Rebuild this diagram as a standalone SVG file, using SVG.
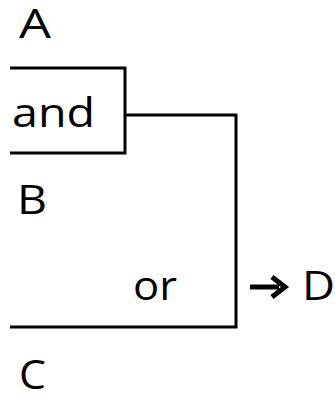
<svg xmlns="http://www.w3.org/2000/svg" width="335" height="394" viewBox="0 0 335 394">
<style>
.t{font-family:"Open Sans","Noto Sans","DejaVu Sans",sans-serif;font-size:40px;fill:#000}
.l{fill:none;stroke:#000;stroke-width:3}
</style>
<rect width="335" height="394" fill="#fff"/>
<g id="A"><text class="t" x="19" y="38" textLength="32" lengthAdjust="spacingAndGlyphs">A</text></g>
<g id="and"><path class="l" d="M10,68 H125 V153 H10"/><text class="t" x="12" y="127" textLength="83" lengthAdjust="spacingAndGlyphs">and</text></g>
<g id="B"><text class="t" x="17" y="214" textLength="30" lengthAdjust="spacingAndGlyphs">B</text></g>
<g id="or"><path class="l" d="M125,115 H236 V327 H10"/><text class="t" x="133" y="300" textLength="44" lengthAdjust="spacingAndGlyphs">or</text></g>
<g id="C"><text class="t" x="19" y="389" textLength="27" lengthAdjust="spacingAndGlyphs">C</text></g>
<g id="connectors"><path d="M250,287 H279" stroke="#000" stroke-width="5" fill="none"/><path d="M272,277 L285,287 L272,297" stroke="#000" stroke-width="5" fill="none"/></g>
<g id="D"><text class="t" x="302" y="300" textLength="33" lengthAdjust="spacingAndGlyphs">D</text></g>
</svg>
